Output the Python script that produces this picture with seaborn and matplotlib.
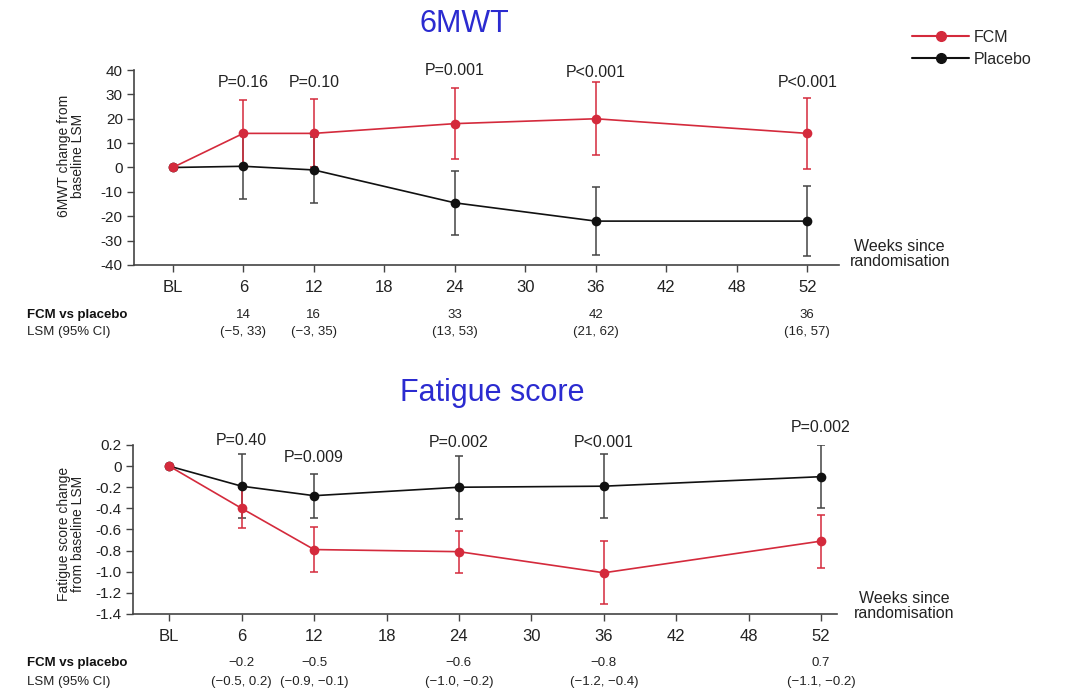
import numpy as np
import pandas as pd
import seaborn as sns
import matplotlib.pyplot as plt
import matplotlib.transforms as mtransforms

# x positions are categorical slots: BL, 6, 12, ..., 48, 52
week_labels = ['BL', '6', '12', '18', '24', '30', '36', '42', '48', '52']
visit_weeks = ['BL', '6', '12', '24', '36', '52']

# 6MWT change from baseline (LSM) with error bar half-widths
mwt_fcm = [0, 14, 14, 18, 20, 14]
mwt_fcm_err = [0, 13.5, 14, 14.5, 15, 14.5]
mwt_pbo = [0, 0.5, -1, -14.5, -22, -22]
mwt_pbo_err = [0, 13.5, 13.5, 13, 14, 14.5]
mwt_p = ['P=0.16', 'P=0.10', 'P=0.001', 'P<0.001', 'P<0.001']
mwt_p_y = [34.9, 34.9, 39.7, 38.9, 34.9]
mwt_lsm = ['14', '16', '33', '42', '36']
mwt_ci = ['(\u22125, 33)', '(\u22123, 35)', '(13, 53)', '(21, 62)', '(16, 57)']

# Fatigue score change from baseline (LSM)
fat_fcm = [0, -0.40, -0.79, -0.81, -1.01, -0.71]
fat_fcm_err = [0, 0.19, 0.21, 0.20, 0.30, 0.25]
fat_pbo = [0, -0.19, -0.28, -0.20, -0.19, -0.10]
fat_pbo_err = [0, 0.30, 0.21, 0.30, 0.30, 0.30]
fat_p = ['P=0.40', 'P=0.009', 'P=0.002', 'P<0.001', 'P=0.002']
fat_p_y = [0.245, 0.077, 0.228, 0.228, 0.37]
fat_lsm = ['\u22120.2', '\u22120.5', '\u22120.6', '\u22120.8', '0.7']
fat_ci = ['(\u22120.5, 0.2)', '(\u22120.9, \u22120.1)', '(\u22121.0, \u22120.2)',
          '(\u22121.2, \u22120.4)', '(\u22121.1, \u22120.2)']

RED = '#d42a3c'
BLACK = '#111111'
BLUE = '#2b2bd0'
GREY = '#444444'

sns.set_style('ticks')
plt.rcParams['font.family'] = ['Liberation Sans', 'DejaVu Sans']

fig = plt.figure(figsize=(10.71, 6.94), dpi=100)
ax1 = fig.add_axes([0.1251, 0.6182, 0.6583, 0.2809])
ax2 = fig.add_axes([0.1242, 0.1153, 0.6573, 0.2435])


def draw_panel(ax, fcm, fcm_err, pbo, pbo_err, ylim, yticks, yticklabels):
    xpos = [week_labels.index(w) for w in visit_weeks]
    df = pd.DataFrame({
        'x': xpos * 2,
        'y': pbo + fcm,
        'group': ['Placebo'] * len(xpos) + ['FCM'] * len(xpos),
    })
    ax.errorbar(xpos, pbo, yerr=pbo_err, fmt='none', ecolor=GREY, elinewidth=1.1,
                capsize=3, capthick=1.1, zorder=2)
    ax.errorbar(xpos, fcm, yerr=fcm_err, fmt='none', ecolor=RED, elinewidth=1.1,
                capsize=3, capthick=1.1, zorder=3)
    sns.lineplot(data=df, x='x', y='y', hue='group', hue_order=['Placebo', 'FCM'],
                 palette={'Placebo': BLACK, 'FCM': RED}, marker='o', markersize=7,
                 markeredgewidth=0, linewidth=1.2, ax=ax, legend=False, zorder=4)
    ax.set_ylim(*ylim)
    ax.set_yticks(yticks)
    ax.set_yticklabels(yticklabels, fontsize=11, color='#222222')
    ax.set_xticks(range(len(week_labels)))
    ax.set_xticklabels(week_labels, fontsize=12, color='#222222')
    ax.set_xlabel('')
    ax.set_ylabel('')
    ax.tick_params(axis='both', length=5, width=1, color=GREY, pad=3)
    ax.tick_params(axis='x', pad=6)
    for side in ['top', 'right']:
        ax.spines[side].set_visible(False)
    for side in ['left', 'bottom']:
        ax.spines[side].set_color(GREY)
        ax.spines[side].set_linewidth(1.2)
    return xpos


xpos = draw_panel(ax1, mwt_fcm, mwt_fcm_err, mwt_pbo, mwt_pbo_err, (-40, 40),
                  range(-40, 41, 10), [str(v) for v in range(-40, 41, 10)])
ax1.set_xlim(-0.55, 9.45)

fat_ticks = np.round(np.arange(-1.4, 0.21, 0.2), 1)
fat_labels = ['0' if v == 0 else f'{v:.1f}' for v in fat_ticks]
draw_panel(ax2, fat_fcm, fat_fcm_err, fat_pbo, fat_pbo_err, (-1.4, 0.2),
           fat_ticks, fat_labels)
ax2.set_xlim(-0.5, 9.22)

# p-values
for x, txt, y in zip(xpos[1:], mwt_p, mwt_p_y):
    ax1.text(x, y, txt, ha='center', va='center', fontsize=11.5, color='#222222')
for x, txt, y in zip(xpos[1:], fat_p, fat_p_y):
    ax2.text(x, y, txt, ha='center', va='center', fontsize=11.5, color='#222222')

# titles
fig.text(0.434, 0.9654, '6MWT', ha='center', va='center', fontsize=22, color=BLUE)
fig.text(0.46, 0.434, 'Fatigue score', ha='center', va='center', fontsize=22, color=BLUE)

# y labels
fig.text(0.066, 0.775, '6MWT change from\nbaseline LSM', rotation=90, ha='center',
         va='center', fontsize=10, color='#222222', linespacing=1.0)
fig.text(0.066, 0.23, 'Fatigue score change\nfrom baseline LSM', rotation=90,
         ha='center', va='center', fontsize=10, color='#222222', linespacing=1.0)

# x axis caption
fig.text(0.84, 0.634, 'Weeks since\nrandomisation', ha='center', va='center',
         fontsize=11.5, color='#222222', linespacing=1.05)
fig.text(0.844, 0.127, 'Weeks since\nrandomisation', ha='center', va='center',
         fontsize=11.5, color='#222222', linespacing=1.05)

# FCM vs placebo table rows
for ax, lsm, ci, y1, y2 in [(ax1, mwt_lsm, mwt_ci, 1 - 315 / 694, 1 - 332 / 694),
                            (ax2, fat_lsm, fat_ci, 1 - 663 / 694, 1 - 682 / 694)]:
    fig.text(0.025, y1, 'FCM vs placebo', ha='left', va='center', fontsize=9.5,
             fontweight='bold', color='#111111')
    fig.text(0.025, y2, 'LSM (95% CI)', ha='left', va='center', fontsize=9.5,
             color='#222222')
    trans = mtransforms.blended_transform_factory(ax.transData, fig.transFigure)
    for x, a, b in zip(xpos[1:], lsm, ci):
        fig.text(x, y1, a, transform=trans, ha='center', va='center', fontsize=9.5,
                 color='#222222')
        fig.text(x, y2, b, transform=trans, ha='center', va='center', fontsize=9.5,
                 color='#222222')

# legend
handles = [plt.Line2D([], [], color=RED, marker='o', markersize=7, linewidth=1.5),
           plt.Line2D([], [], color=BLACK, marker='o', markersize=7, linewidth=1.5)]
fig.legend(handles, ['FCM', 'Placebo'], loc='upper left', bbox_to_anchor=(0.838, 0.978),
           frameon=False, fontsize=11.5, handlelength=3.6, handletextpad=0.3,
           labelspacing=0.45)

fig.savefig('out.png', dpi=100)
